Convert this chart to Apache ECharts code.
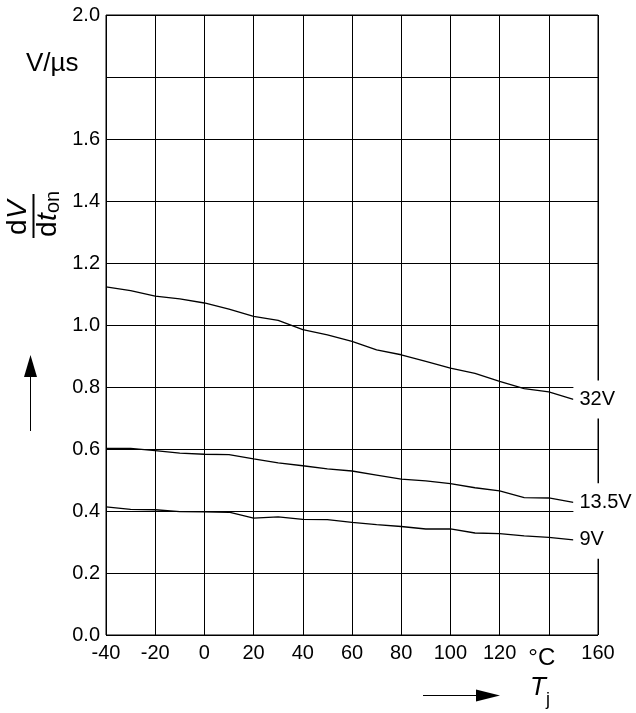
<!DOCTYPE html>
<html>
<head>
<meta charset="utf-8">
<script src="https://cdn.jsdelivr.net/npm/echarts@6/dist/echarts.min.js"></script>
<style>
  html, body { margin: 0; padding: 0; background: #fff; }
  #chart { width: 636px; height: 713px; }
</style>
</head>
<body>
<div id="chart"></div>
<script>
// Junction temperature (°C) at which each curve is sampled
var temps = [-40, -30, -20, -10, 0, 10, 20, 30, 40, 50, 60, 70, 80, 90, 100, 110, 120, 130, 140, 150];

// Turn-on slew rate dV/dt_on (V/µs) per supply voltage
var slew32V  = [1.123, 1.111, 1.093, 1.084, 1.071, 1.051, 1.028, 1.015, 0.985, 0.968, 0.947, 0.920, 0.904, 0.883, 0.861, 0.844, 0.818, 0.795, 0.784, 0.760];
var slew13V5 = [0.602, 0.602, 0.595, 0.587, 0.583, 0.582, 0.568, 0.555, 0.546, 0.536, 0.529, 0.516, 0.503, 0.497, 0.488, 0.475, 0.465, 0.443, 0.442, 0.428];
var slew9V   = [0.413, 0.405, 0.404, 0.398, 0.397, 0.396, 0.377, 0.381, 0.373, 0.372, 0.363, 0.356, 0.350, 0.342, 0.342, 0.329, 0.327, 0.320, 0.315, 0.307];

var seriesNames = ['32V', '13.5V', '9V'];

// Axis ranges and tick steps
var xMin = -40, xMax = 160, xStep = 20;
var yMin = 0, yMax = 2.0, yStep = 0.2;

var FONT = '"Liberation Sans", Arial, sans-serif';
var TICK_SIZE = 20;

function pairs(xs, ys) {
  return xs.map(function (x, i) { return [x, ys[i]]; });
}

function curve(name, values) {
  return {
    name: name,
    type: 'line',
    data: pairs(temps, values),
    showSymbol: false,
    symbol: 'none',
    silent: true,
    lineStyle: { color: '#000', width: 1.3 },
    endLabel: {
      show: true,
      formatter: '{a}',
      distance: 0,
      color: '#000',
      fontFamily: FONT,
      fontSize: 20,
      backgroundColor: '#fff',
      padding: [9, 4, 9, 6]
    }
  };
}

var chart = echarts.init(document.getElementById('chart'), null, { renderer: 'canvas' });

chart.setOption({
  animation: false,
  backgroundColor: '#fff',
  grid: {
    left: 106, right: 38, top: 15, bottom: 78,
    show: true, borderColor: '#000', borderWidth: 1, backgroundColor: 'transparent'
  },
  xAxis: {
    type: 'value', min: xMin, max: xMax, interval: xStep,
    axisLine: { show: false },
    axisTick: { show: false },
    splitLine: { show: true, lineStyle: { color: '#000', width: 1 } },
    axisLabel: {
      margin: 8,
      color: '#000', fontFamily: FONT, fontSize: TICK_SIZE,
      formatter: function (v) { return v === 140 ? '{u|°C}' : String(v); },
      rich: { u: { fontFamily: FONT, fontSize: 24, color: '#000', padding: [3, 14, 0, 0] } }
    }
  },
  yAxis: {
    type: 'value', min: yMin, max: yMax, interval: yStep,
    axisLine: { show: false },
    axisTick: { show: false },
    splitLine: { show: true, lineStyle: { color: '#000', width: 1 } },
    axisLabel: {
      margin: 6,
      color: '#000', fontFamily: FONT, fontSize: TICK_SIZE,
      padding: [12, 0, 0, 0],
      formatter: function (v) {
        var s = v.toFixed(1);
        return s === '1.8' ? '' : s;
      }
    }
  },
  graphic: [
    // unit label
    { type: 'text', left: 26, top: 51, style: { text: 'V/µs', fill: '#000', font: '26px ' + FONT } },
    // rotated quantity label dV / dt_on
    {
      type: 'group', x: 33.5, y: 216, rotation: Math.PI / 2,
      children: [
        { type: 'line', shape: { x1: -22, y1: 0, x2: 22, y2: 0 }, style: { stroke: '#000', lineWidth: 2 } },
        { type: 'text', x: -19, y: -1, style: { text: 'd', fill: '#000', font: '28px ' + FONT, align: 'left', verticalAlign: 'bottom' } },
        { type: 'text', x: -3, y: -1, style: { text: 'V', fill: '#000', font: 'italic 28px ' + FONT, align: 'left', verticalAlign: 'bottom' } },
        { type: 'text', x: -21, y: 1, style: { text: 'd', fill: '#000', font: '28px ' + FONT, align: 'left', verticalAlign: 'top' } },
        { type: 'text', x: -5, y: 1, style: { text: 't', fill: '#000', font: 'italic 28px ' + FONT, align: 'left', verticalAlign: 'top' } },
        { type: 'text', x: 3, y: 10, style: { text: 'on', fill: '#000', font: '20px ' + FONT, align: 'left', verticalAlign: 'top' } }
      ]
    },
    // upward arrow beside the y axis
    { type: 'line', shape: { x1: 30.5, y1: 376, x2: 30.5, y2: 431 }, style: { stroke: '#000', lineWidth: 1 } },
    { type: 'polygon', shape: { points: [[30.5, 355], [24, 377], [37, 377]] }, style: { fill: '#000' } },
    // rightward arrow below the x axis
    { type: 'line', shape: { x1: 423, y1: 695.5, x2: 477, y2: 695.5 }, style: { stroke: '#000', lineWidth: 1 } },
    { type: 'polygon', shape: { points: [[500, 695.5], [476, 689.5], [476, 701.5]] }, style: { fill: '#000' } },
    // T_j
    { type: 'text', x: 530, y: 675, style: { text: 'T', fill: '#000', font: 'italic 26px ' + FONT } },
    { type: 'text', x: 546, y: 691, style: { text: 'j', fill: '#000', font: '18px ' + FONT } }
  ],
  series: [
    curve(seriesNames[0], slew32V),
    curve(seriesNames[1], slew13V5),
    curve(seriesNames[2], slew9V)
  ]
});
</script>
</body>
</html>
